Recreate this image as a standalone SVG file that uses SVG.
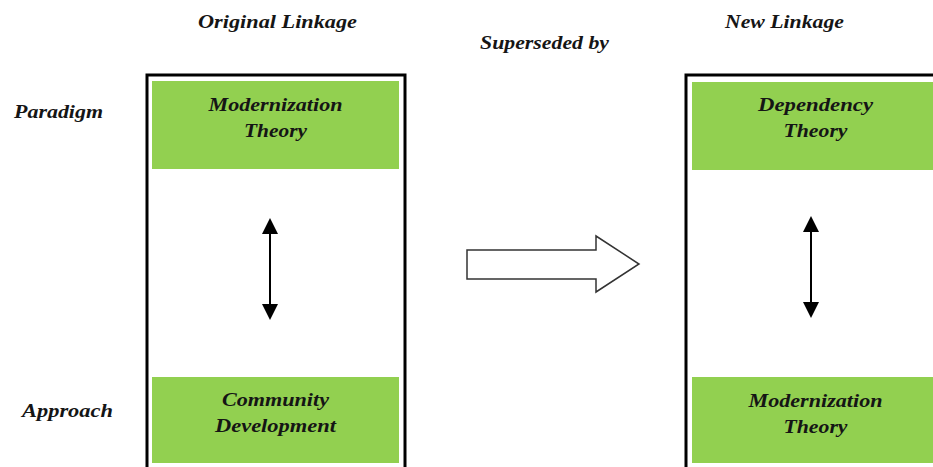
<svg xmlns="http://www.w3.org/2000/svg" width="933" height="467" viewBox="0 0 933 467">
<style>
  text { font-family: "Liberation Serif", "Times New Roman", serif; font-weight: bold; font-style: italic; fill: #151515; }
  .hdr { font-size: 19px; }
  .lbl { font-size: 18px; text-anchor: middle; }
  .frame { fill: #ffffff; stroke: #000000; stroke-width: 3; }
  .green { fill: #92D050; }
  .dbl { stroke: #000000; stroke-width: 2; marker-start: url(#tip); marker-end: url(#tip); }
  .big { fill: #ffffff; stroke: #333333; stroke-width: 1.5; stroke-linejoin: miter; }
</style>
<defs>
  <marker id="tip" viewBox="0 0 16 16" markerWidth="16" markerHeight="16" markerUnits="userSpaceOnUse" refX="12" refY="8" orient="auto-start-reverse">
    <path d="M0,0 L16,8 L0,16 z" fill="#000000"/>
  </marker>
</defs>
<rect width="933" height="467" fill="#ffffff"/>

<g id="headers">
  <text class="hdr" x="198" y="28" textLength="159" lengthAdjust="spacingAndGlyphs">Original Linkage</text>
  <text class="hdr" x="480" y="49" textLength="129" lengthAdjust="spacingAndGlyphs">Superseded by</text>
  <text class="hdr" x="725" y="28" textLength="119" lengthAdjust="spacingAndGlyphs">New Linkage</text>
  <text class="hdr" x="14" y="118" textLength="89" lengthAdjust="spacingAndGlyphs">Paradigm</text>
  <text class="hdr" x="22" y="417" textLength="91" lengthAdjust="spacingAndGlyphs">Approach</text>
</g>

<g id="original-frame">
  <rect class="frame" x="147" y="75" width="258" height="420"/>
</g>
<g id="new-frame">
  <rect class="frame" x="686" y="75" width="300" height="420"/>
</g>

<g id="orig-paradigm">
  <rect class="green" x="152" y="81" width="247" height="88"/>
  <text class="lbl" x="275.5" y="111" textLength="134" lengthAdjust="spacingAndGlyphs">Modernization</text>
  <text class="lbl" x="275.5" y="137" textLength="63" lengthAdjust="spacingAndGlyphs">Theory</text>
</g>
<g id="orig-approach">
  <rect class="green" x="152" y="377" width="247" height="86"/>
  <text class="lbl" x="275.5" y="406" textLength="107" lengthAdjust="spacingAndGlyphs">Community</text>
  <text class="lbl" x="275.5" y="432" textLength="121" lengthAdjust="spacingAndGlyphs">Development</text>
</g>
<g id="new-paradigm">
  <rect class="green" x="692" y="82" width="247" height="88"/>
  <text class="lbl" x="815.5" y="111" textLength="115" lengthAdjust="spacingAndGlyphs">Dependency</text>
  <text class="lbl" x="815.5" y="137" textLength="64" lengthAdjust="spacingAndGlyphs">Theory</text>
</g>
<g id="new-approach">
  <rect class="green" x="692" y="377" width="247" height="86"/>
  <text class="lbl" x="815.5" y="407" textLength="134" lengthAdjust="spacingAndGlyphs">Modernization</text>
  <text class="lbl" x="815.5" y="433" textLength="64" lengthAdjust="spacingAndGlyphs">Theory</text>
</g>

<g id="connectors">
  <line class="dbl" x1="270" y1="222" x2="270" y2="316"/>
  <line class="dbl" x1="811" y1="220" x2="811" y2="314"/>
  <polygon class="big" points="467,250 596,250 596,236 639,264 596,292 596,279 467,279"/>
</g>
</svg>
